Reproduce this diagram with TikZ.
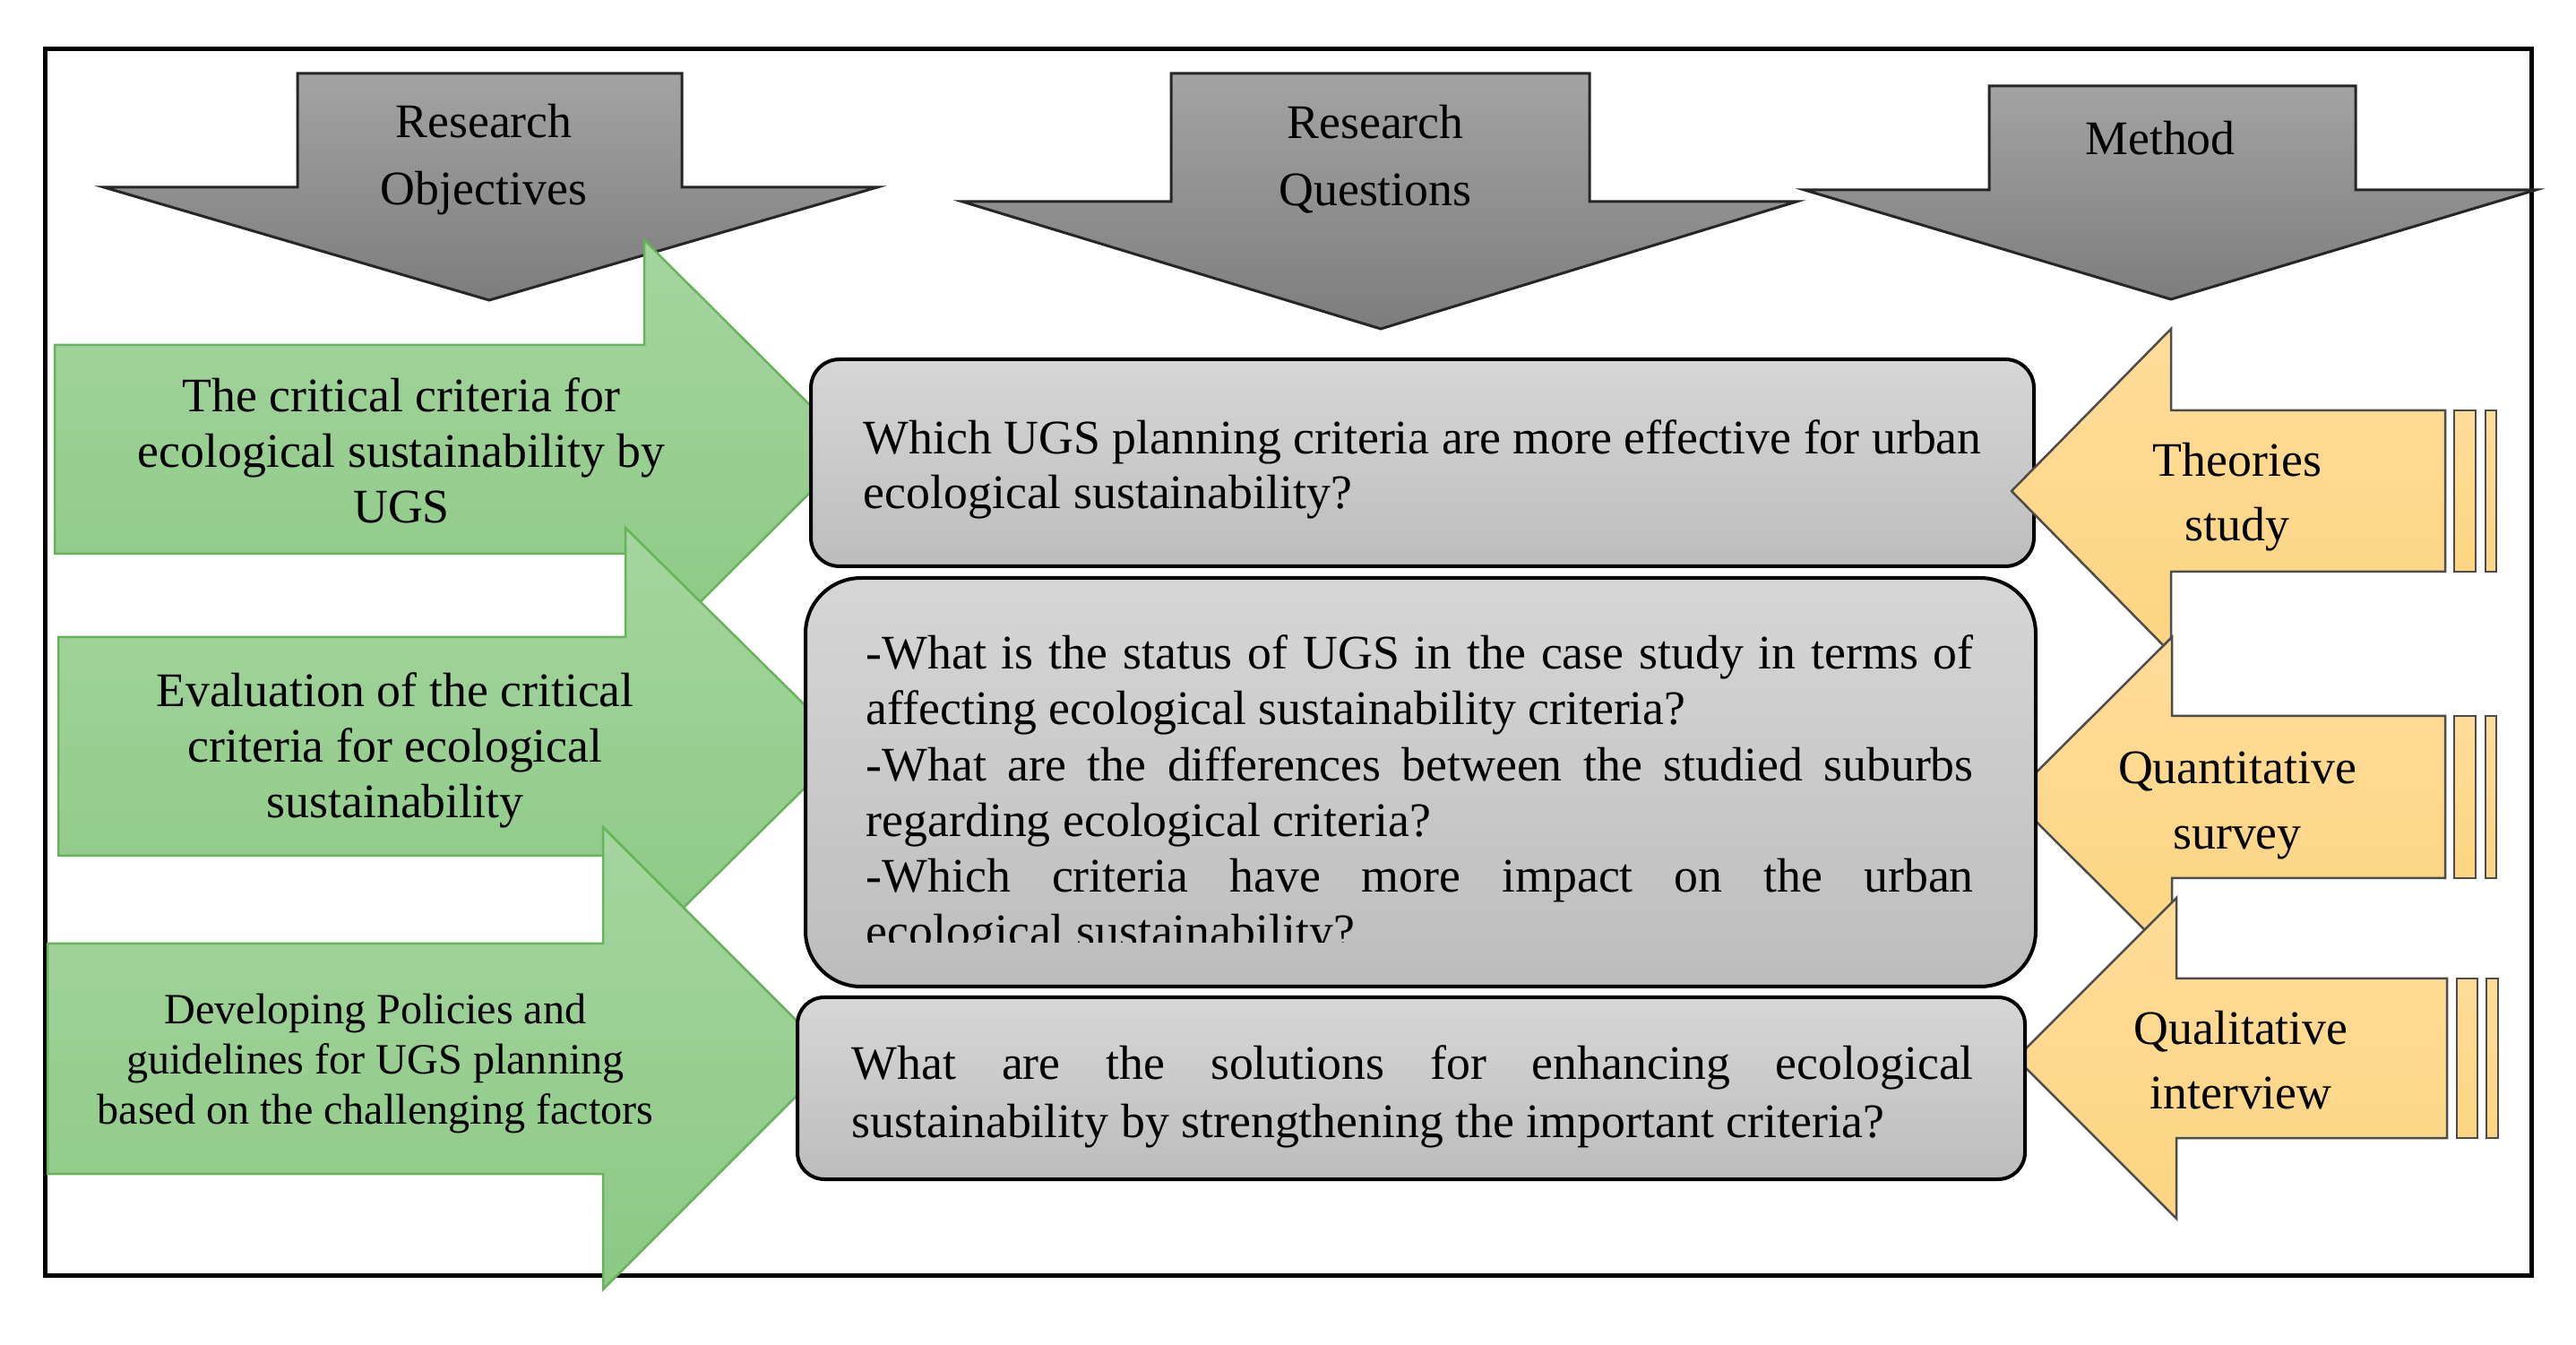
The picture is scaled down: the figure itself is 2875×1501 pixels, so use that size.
\documentclass[tikz,border=0pt]{standalone}
\usepackage{fontspec}
\setmainfont{Liberation Serif}

\newlength{\du}
\setlength{\du}{0.01cm}

\definecolor{headtop}{rgb}{0.640000, 0.640000, 0.640000}
\definecolor{headbot}{rgb}{0.490000, 0.490000, 0.490000}
\definecolor{boxtop}{rgb}{0.840000, 0.840000, 0.840000}
\definecolor{boxbot}{rgb}{0.740000, 0.740000, 0.740000}
\definecolor{goaltop}{rgb}{0.650000, 0.835000, 0.625000}
\definecolor{goalbot}{rgb}{0.545000, 0.790000, 0.515000}
\definecolor{goalline}{rgb}{0.400000, 0.705000, 0.350000}
\definecolor{methtop}{rgb}{0.996000, 0.862000, 0.596000}
\definecolor{methbot}{rgb}{0.992000, 0.835000, 0.510000}
\definecolor{methline}{rgb}{0.300000, 0.300000, 0.300000}

\tikzset{
  frameline/.style={draw=black, line width=5\du},
  headarrow/.style={draw=black!85, line width=3\du, line join=miter, top color=headtop, bottom color=headbot},
  goalarrow/.style={draw=goalline, line width=2.5\du, line join=miter, top color=goaltop, bottom color=goalbot},
  metharrow/.style={draw=methline, line width=2.5\du, line join=miter, top color=methtop, bottom color=methbot},
  qbox/.style={draw=black, line width=4\du, top color=boxtop, bottom color=boxbot, inner sep=0pt},
  headtext/.style={font=\fontsize{15.3}{21.3}\selectfont, align=center, inner sep=0pt},
  goaltext/.style={font=\fontsize{15.3}{17.6}\selectfont, align=center, inner sep=0pt},
  methtext/.style={font=\fontsize{15.3}{20.5}\selectfont, align=center, inner sep=0pt},
  qtext/.style={font=\fontsize{15.3}{17.7}\selectfont, inner sep=0pt, anchor=west}
}

\begin{document}
\begin{tikzpicture}[x=\du,y=-\du]
\fill[white] (0,0) rectangle (2875,1501);
\useasboundingbox (0,0) rectangle (2875,1501);

% outer frame
\draw[frameline] (50,55) rectangle (2825,1423);

% header arrows
\draw[headarrow] (332,82) -- (761,82) -- (761,209) -- (979,209) -- (546,335) -- (116,209) -- (332,209) -- cycle;
\node[headtext] (objhead) at (540,178) {Research\\Objectives};
\draw[headarrow] (1307,82) -- (1774,82) -- (1774,225) -- (2005,225) -- (1541,367) -- (1074,225) -- (1307,225) -- cycle;
\node[headtext] (queshead) at (1535,178) {Research\\Questions};
\draw[headarrow] (2220,96) -- (2629,96) -- (2629,212) -- (2830,212) -- (2423,334) -- (2014,212) -- (2220,212) -- cycle;
\node[headtext] (methhead) at (2411,154) {Method};

% objectives
\draw[goalarrow] (61,385) -- (719,385) -- (719,268) -- (953,501) -- (719,734) -- (719,618) -- (61,618) -- cycle;
\node[goaltext] (goal1) at (448,503) {The critical criteria for\\ecological sustainability by\\UGS};
\draw[goalarrow] (65,711) -- (698,711) -- (698,589) -- (945,833) -- (698,1077) -- (698,955) -- (65,955) -- cycle;
\node[goaltext] (goal2) at (441,837) {Evaluation of the critical\\criteria for ecological\\sustainability};
\draw[goalarrow] (53,1053) -- (673,1053) -- (673,923) -- (931,1181) -- (673,1439) -- (673,1310) -- (53,1310) -- cycle;
\node[goaltext, font=\fontsize{13.7}{15.9}\selectfont] (goal3) at (419,1187) {Developing Policies and\\guidelines for UGS planning\\based on the challenging factors};

% questions
\node[qbox, rounded corners=32\du, minimum width=1365\du, minimum height=231\du] (ques1) at (1587.5,516.5) {};
\node[qtext, align=left, font=\fontsize{15.3}{17.3}\selectfont] (ques1text) at (963,524) {Which UGS planning criteria are more effective for urban\\ecological sustainability?};

% methods
\draw[metharrow] (2729,458) -- (2423,458) -- (2423,367) -- (2245,548) -- (2423,729) -- (2423,638) -- (2729,638) -- cycle;
\draw[metharrow] (2739,458) rectangle (2763,638);
\draw[metharrow] (2774,458) rectangle (2786,638);
\node[methtext] (meth1) at (2497,555) {Theories\\study};
\draw[metharrow] (2729,799) -- (2424,799) -- (2424,711) -- (2245,889.5) -- (2424,1068) -- (2424,980) -- (2729,980) -- cycle;
\draw[metharrow] (2739,799) rectangle (2763,980);
\draw[metharrow] (2774,799) rectangle (2786,980);
\node[methtext] (meth2) at (2497,899) {Quantitative\\survey};
\draw[metharrow] (2731,1092) -- (2429,1092) -- (2429,1002) -- (2250,1181) -- (2429,1360) -- (2429,1270) -- (2731,1270) -- cycle;
\draw[metharrow] (2742,1092) rectangle (2765,1270);
\draw[metharrow] (2775,1092) rectangle (2788,1270);
\node[methtext] (meth3) at (2501,1183) {Qualitative\\interview};

\node[qbox, rounded corners=62\du, minimum width=1373\du, minimum height=456\du] (ques2) at (1585.5,873) {};
\begin{scope}
\clip (899,645) rectangle (2272,1052);
\node[qtext, text width=1236\du, align=justify] (ques2text) at (966,889) {\tolerance=10000 -What is the status of UGS in the case study in terms of\linebreak affecting ecological sustainability criteria?\\-What are the differences between the studied suburbs\linebreak regarding ecological criteria?\\-Which criteria have more impact on the urban\linebreak ecological sustainability?};
\end{scope}

\node[qbox, rounded corners=30\du, minimum width=1370\du, minimum height=203\du] (ques3) at (1575,1214.5) {};
\node[qtext, text width=1252\du, align=justify, font=\fontsize{15.3}{18.5}\selectfont] (ques3text) at (950,1224) {\tolerance=10000 What are the solutions for enhancing ecological\linebreak sustainability by strengthening the important criteria?};
\end{tikzpicture}
\end{document}
